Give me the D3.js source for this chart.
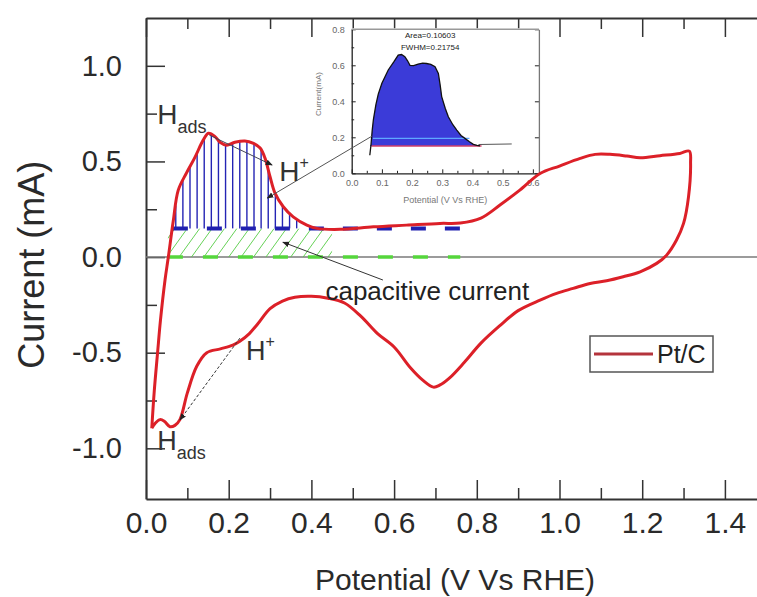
<!DOCTYPE html>
<html>
<head>
<meta charset="utf-8">
<script src="https://cdn.jsdelivr.net/npm/d3@7"></script>
<style>
  body { margin: 0; background: #fff; }
  svg { display: block; font-family: "Liberation Sans", Arial, sans-serif; }
</style>
</head>
<body>
<div id="chart"></div>
<script>
// CV of Pt/C, anodic sweep (low -> high potential)
var anodicPot = [0.014, 0.020, 0.028, 0.035, 0.046, 0.054, 0.066, 0.078, 0.098, 0.118, 0.138, 0.151, 0.167, 0.179, 0.195, 0.215, 0.239, 0.260, 0.276, 0.288, 0.300, 0.312, 0.332, 0.356, 0.389, 0.413, 0.469, 0.550, 0.630, 0.711, 0.760, 0.810, 0.856, 0.904, 0.953, 1.000, 1.050, 1.086, 1.122, 1.163, 1.195, 1.243, 1.291, 1.314];
var anodicCur = [-0.895, -0.70, -0.50, -0.33, -0.12, 0.00, 0.19, 0.35, 0.44, 0.52, 0.61, 0.647, 0.63, 0.60, 0.585, 0.60, 0.607, 0.594, 0.57, 0.516, 0.42, 0.334, 0.263, 0.21, 0.167, 0.15, 0.145, 0.158, 0.167, 0.176, 0.178, 0.204, 0.272, 0.35, 0.437, 0.476, 0.516, 0.537, 0.537, 0.528, 0.519, 0.53, 0.542, 0.554];
// cathodic sweep (high -> low potential)
var cathodicPot = [1.317, 1.312, 1.300, 1.283, 1.259, 1.235, 1.195, 1.154, 1.114, 1.074, 1.033, 0.993, 0.953, 0.900, 0.855, 0.810, 0.770, 0.735, 0.710, 0.695, 0.670, 0.640, 0.600, 0.560, 0.520, 0.480, 0.440, 0.400, 0.360, 0.330, 0.300, 0.270, 0.250, 0.227, 0.210, 0.180, 0.147, 0.123, 0.100, 0.082, 0.070, 0.058, 0.045, 0.034, 0.022, 0.014];
var cathodicCur = [0.49, 0.315, 0.176, 0.089, 0.010, -0.033, -0.077, -0.103, -0.124, -0.138, -0.164, -0.190, -0.225, -0.28, -0.36, -0.45, -0.55, -0.63, -0.67, -0.68, -0.645, -0.58, -0.47, -0.40, -0.31, -0.24, -0.215, -0.205, -0.21, -0.23, -0.27, -0.35, -0.40, -0.44, -0.46, -0.48, -0.50, -0.57, -0.71, -0.85, -0.88, -0.887, -0.86, -0.85, -0.87, -0.895];

// inset: integrated Hads peak
var insetPot = [0.060, 0.064, 0.068, 0.072, 0.080, 0.088, 0.100, 0.121, 0.140, 0.154, 0.165, 0.176, 0.185, 0.193, 0.205, 0.220, 0.235, 0.248, 0.262, 0.276, 0.287, 0.293, 0.298, 0.310, 0.320, 0.335, 0.348, 0.362, 0.375, 0.390, 0.403, 0.415, 0.425];
var insetCur = [0.10, 0.16, 0.24, 0.30, 0.38, 0.44, 0.50, 0.574, 0.62, 0.657, 0.66, 0.648, 0.625, 0.60, 0.598, 0.607, 0.612, 0.61, 0.605, 0.592, 0.555, 0.49, 0.426, 0.36, 0.314, 0.27, 0.24, 0.21, 0.194, 0.175, 0.161, 0.155, 0.152];
var insetBase = 0.152;
var insetTail = [[0.42, 0.16], [0.53, 0.163]];

var xMajor = [0.0, 0.2, 0.4, 0.6, 0.8, 1.0, 1.2, 1.4];
var xMinor = [0.1, 0.3, 0.5, 0.7, 0.9, 1.1, 1.3];
var yMajor = [-1.0, -0.5, 0.0, 0.5, 1.0];
var yMinor = [-0.75, -0.25, 0.25, 0.75];
var insetXTicks = [0.0, 0.1, 0.2, 0.3, 0.4, 0.5, 0.6];
var insetXMinor = [0.05, 0.15, 0.25, 0.35, 0.45, 0.55];
var insetYTicks = [0.0, 0.2, 0.4, 0.6, 0.8];
var insetYMinor = [0.1, 0.3, 0.5, 0.7];

var hadsBase = 0.15;      // blue baseline
var capBase = 0.0;        // green baseline
var baseRange = [0.053, 0.76];

var W = 757, H = 597;
var svg = d3.select('#chart').append('svg').attr('width', W).attr('height', H);

var x = d3.scaleLinear().domain([0, 1.5]).range([146, 766.25]);
var y = d3.scaleLinear().domain([-1.265, 1.25]).range([499, 18]);

var fmt = function (d) { return d.toFixed(1); };
var axisCol = '#333';

function styleAxis(g, fs) {
	g.select('.domain').attr('stroke', axisCol).attr('stroke-width', 2);
	g.selectAll('.tick line').attr('stroke', axisCol).attr('stroke-width', 1.5);
	g.selectAll('.tick text').attr('fill', '#2a2a2a').style('font-size', fs + 'px')
		.style('font-family', '"Liberation Sans", Arial, sans-serif');
}

// main axes
var gB = svg.append('g').attr('transform', 'translate(0,' + y(-1.265) + ')')
	.call(d3.axisBottom(x).tickValues(xMajor).tickSize(-19).tickSizeOuter(0).tickPadding(13).tickFormat(fmt));
styleAxis(gB, 30);
var gBm = svg.append('g').attr('transform', 'translate(0,' + y(-1.265) + ')')
	.call(d3.axisBottom(x).tickValues(xMinor).tickSize(-11).tickFormat(''));
gBm.select('.domain').remove();
styleAxis(gBm, 30);

var gT = svg.append('g').attr('transform', 'translate(0,' + y(1.25) + ')')
	.call(d3.axisTop(x).tickValues(xMajor).tickSize(-19).tickSizeOuter(0).tickFormat(''));
styleAxis(gT, 30);
var gTm = svg.append('g').attr('transform', 'translate(0,' + y(1.25) + ')')
	.call(d3.axisTop(x).tickValues(xMinor).tickSize(-11).tickFormat(''));
gTm.select('.domain').remove();
styleAxis(gTm, 30);

var gL = svg.append('g').attr('transform', 'translate(' + x(0) + ',0)')
	.call(d3.axisLeft(y).tickValues(yMajor).tickSize(-19).tickSizeOuter(0).tickPadding(24).tickFormat(fmt));
styleAxis(gL, 29);
var gLm = svg.append('g').attr('transform', 'translate(' + x(0) + ',0)')
	.call(d3.axisLeft(y).tickValues(yMinor).tickSize(-11).tickFormat(''));
gLm.select('.domain').remove();
styleAxis(gLm, 29);

// zero line
svg.append('line')
	.attr('x1', x(0)).attr('x2', x(1.5)).attr('y1', y(0)).attr('y2', y(0))
	.attr('stroke', '#7a7a7a').attr('stroke-width', 1.5);

// axis titles
svg.append('text').attr('x', 455).attr('y', 590)
	.attr('text-anchor', 'middle').attr('fill', '#2a2a2a').style('font-size', '30px')
	.text('Potential (V Vs RHE)');
svg.append('text').attr('transform', 'translate(44,' + y(-0.04) + ') rotate(-90)')
	.attr('text-anchor', 'middle').attr('fill', '#2a2a2a').style('font-size', '36px')
	.text('Current (mA)');

// ---------- inset ----------
var ix = d3.scaleLinear().domain([0, 0.62]).range([351.7, 538.9]);
var iy = d3.scaleLinear().domain([0, 0.8]).range([173.3, 29.3]);
var inset = svg.append('g');
inset.append('rect').attr('x', ix(0) - 1).attr('y', iy(0.8) - 1)
	.attr('width', ix(0.62) - ix(0) + 2).attr('height', iy(0) - iy(0.8) + 2).attr('fill', '#fff');

var area = d3.area()
	.x(function (d) { return ix(d[0]); })
	.y0(iy(insetBase))
	.y1(function (d) { return iy(Math.max(d[1], insetBase)); });
var insetPts = insetPot.map(function (p, i) { return [p, insetCur[i]]; });
inset.append('path').datum(insetPts).attr('d', area).attr('fill', '#3b3bd8');
inset.append('line').attr('x1', ix(0.07)).attr('x2', ix(0.39))
	.attr('y1', iy(0.194)).attr('y2', iy(0.194)).attr('stroke', '#5fa8ff').attr('stroke-width', 1.2);
inset.append('line').attr('x1', ix(0.065)).attr('x2', ix(0.43))
	.attr('y1', iy(insetBase)).attr('y2', iy(insetBase)).attr('stroke', '#d0406a').attr('stroke-width', 1.5);
var iline = d3.line().x(function (d) { return ix(d[0]); }).y(function (d) { return iy(d[1]); });
inset.append('path').datum(insetPts).attr('d', iline).attr('fill', 'none')
	.attr('stroke', '#111').attr('stroke-width', 1.3);
inset.append('path').datum(insetTail).attr('d', iline).attr('fill', 'none')
	.attr('stroke', '#555').attr('stroke-width', 1);

function styleInset(g) {
	g.select('.domain').attr('stroke', '#222').attr('stroke-width', 1.3);
	g.selectAll('.tick line').attr('stroke', '#222').attr('stroke-width', 1);
	g.selectAll('.tick text').attr('fill', '#666').style('font-size', '9px');
}
var igB = inset.append('g').attr('transform', 'translate(0,' + iy(0) + ')')
	.call(d3.axisBottom(ix).tickValues(insetXTicks).tickSize(-4).tickSizeOuter(0).tickPadding(6).tickFormat(fmt));
styleInset(igB);
var igBm = inset.append('g').attr('transform', 'translate(0,' + iy(0) + ')')
	.call(d3.axisBottom(ix).tickValues(insetXMinor).tickSize(-2.5).tickFormat(''));
igBm.select('.domain').remove();
styleInset(igBm);
var igL = inset.append('g').attr('transform', 'translate(' + ix(0) + ',0)')
	.call(d3.axisLeft(iy).tickValues(insetYTicks).tickSize(-4).tickSizeOuter(0).tickPadding(7).tickFormat(fmt));
styleInset(igL);
var igLm = inset.append('g').attr('transform', 'translate(' + ix(0) + ',0)')
	.call(d3.axisLeft(iy).tickValues(insetYMinor).tickSize(-2.5).tickFormat(''));
igLm.select('.domain').remove();
styleInset(igLm);
var igR = inset.append('g').attr('transform', 'translate(' + ix(0.62) + ',0)')
	.call(d3.axisRight(iy).tickValues(insetYTicks).tickSize(-4).tickSizeOuter(0).tickFormat(''));
styleInset(igR);
igR.select('.domain').attr('stroke', '#777');
inset.append('line').attr('x1', ix(0)).attr('x2', ix(0.62)).attr('y1', iy(0.8)).attr('y2', iy(0.8))
	.attr('stroke', '#999').attr('stroke-width', 1.5);

inset.append('text').attr('x', ix(0.26)).attr('y', iy(0.75)).attr('text-anchor', 'middle')
	.style('font-size', '8px').attr('fill', '#222').text('Area=0.10603');
inset.append('text').attr('x', ix(0.26)).attr('y', iy(0.685)).attr('text-anchor', 'middle')
	.style('font-size', '8px').attr('fill', '#222').text('FWHM=0.21754');
inset.append('text').attr('x', ix(0.31)).attr('y', iy(0) + 30).attr('text-anchor', 'middle')
	.style('font-size', '9px').attr('fill', '#777').text('Potential (V Vs RHE)');
inset.append('text').attr('transform', 'translate(' + (ix(0) - 31) + ',' + iy(0.44) + ') rotate(-90)')
	.attr('text-anchor', 'middle').style('font-size', '8px').attr('fill', '#777').text('Current(mA)');

// ---------- hatching ----------
var defs = svg.append('defs');
defs.append('clipPath').attr('id', 'capClip').append('rect')
	.attr('x', x(0.053)).attr('y', y(hadsBase)).attr('width', x(0.45) - x(0.053)).attr('height', y(capBase) - y(hadsBase));
var diagStarts = d3.range(0.02, 0.45, 0.03);
svg.append('g').attr('clip-path', 'url(#capClip)').selectAll('line').data(diagStarts).enter()
	.append('line')
	.attr('x1', function (d) { return x(d); }).attr('y1', y(capBase))
	.attr('x2', function (d) { return x(d + 0.05); }).attr('y2', y(hadsBase))
	.attr('stroke', '#55cc44').attr('stroke-width', 0.9);

function anodicAt(p) {
	var i = d3.bisectLeft(anodicPot, p);
	if (i <= 0) return anodicCur[0];
	var t = (p - anodicPot[i - 1]) / (anodicPot[i] - anodicPot[i - 1]);
	return anodicCur[i - 1] + t * (anodicCur[i] - anodicCur[i - 1]);
}
var vStarts = d3.range(0.072, 0.37, 0.0172);
svg.append('g').selectAll('line').data(vStarts).enter()
	.append('line')
	.attr('x1', function (d) { return x(d); }).attr('x2', function (d) { return x(d); })
	.attr('y1', y(hadsBase)).attr('y2', function (d) { return y(anodicAt(d)); })
	.attr('stroke', '#2424b4').attr('stroke-width', 1.4);

svg.append('line').attr('x1', x(0.065)).attr('x2', x(0.76)).attr('y1', y(hadsBase)).attr('y2', y(hadsBase))
	.attr('stroke', '#2020b0').attr('stroke-width', 4).attr('stroke-dasharray', '15,19');
svg.append('line').attr('x1', x(baseRange[0])).attr('x2', x(baseRange[1])).attr('y1', y(capBase)).attr('y2', y(capBase))
	.attr('stroke', '#55d63c').attr('stroke-width', 3.5).attr('stroke-dasharray', '15,20');

// ---------- main CV curve ----------
var cv = anodicPot.map(function (p, i) { return [p, anodicCur[i]]; })
	.concat(cathodicPot.map(function (p, i) { return [p, cathodicCur[i]]; }));
var line = d3.line().x(function (d) { return x(d[0]); }).y(function (d) { return y(d[1]); })
	.curve(d3.curveCatmullRom.alpha(0.5));
svg.append('path').datum(cv).attr('d', line).attr('fill', 'none')
	.attr('stroke', '#dc2028').attr('stroke-width', 3).attr('stroke-linejoin', 'round');

// ---------- annotations ----------
defs.append('marker').attr('id', 'arr').attr('viewBox', '0 0 10 10').attr('refX', 9).attr('refY', 5)
	.attr('markerWidth', 7).attr('markerHeight', 7).attr('orient', 'auto')
	.append('path').attr('d', 'M0,1 L10,5 L0,9 Z').attr('fill', '#222');

var arrows = [
	{ from: [0.153, 0.638], to: [0.305, 0.481], dash: null, col: '#445' },
	{ from: [0.547, 0.633], to: [0.293, 0.308], dash: null, col: '#555' },
	{ from: [0.227, -0.424], to: [0.082, -0.852], dash: '3,2', col: '#333' },
	{ from: [0.573, -0.12], to: [0.331, 0.078], dash: null, col: '#333' }
];
svg.append('g').selectAll('line').data(arrows).enter().append('line')
	.attr('x1', function (d) { return x(d.from[0]); }).attr('y1', function (d) { return y(d.from[1]); })
	.attr('x2', function (d) { return x(d.to[0]); }).attr('y2', function (d) { return y(d.to[1]); })
	.attr('stroke', function (d) { return d.col; }).attr('stroke-width', 1)
	.attr('stroke-dasharray', function (d) { return d.dash; })
	.attr('marker-end', 'url(#arr)');

function label(p, main, sub, sup, fs) {
	var t = svg.append('text').attr('x', x(p[0])).attr('y', y(p[1])).attr('fill', '#333')
		.style('font-size', fs + 'px').text(main);
	if (sub) t.append('tspan').attr('dy', 9).style('font-size', '18px').text(sub);
	if (sup) t.append('tspan').attr('dy', -13).style('font-size', '16px').text(sup);
}
label([0.027, 0.695], 'H', 'ads', null, 28);
label([0.322, 0.397], 'H', null, '+', 28);
label([0.242, -0.539], 'H', null, '+', 27);
label([0.027, -1.009], 'H', 'ads', null, 27);

svg.append('text').attr('x', x(0.434)).attr('y', y(-0.225)).attr('fill', '#222')
	.style('font-size', '26px').text('capacitive current');

// legend
var lg = svg.append('g');
lg.append('rect').attr('x', 590).attr('y', 336).attr('width', 123).attr('height', 36)
	.attr('fill', '#fff').attr('stroke', '#555').attr('stroke-width', 1.5);
lg.append('line').attr('x1', 594).attr('x2', 653).attr('y1', 354).attr('y2', 354)
	.attr('stroke', '#b4343c').attr('stroke-width', 3);
lg.append('text').attr('x', 657).attr('y', 363).attr('fill', '#222').style('font-size', '25px').text('Pt/C');
</script>
</body>
</html>
